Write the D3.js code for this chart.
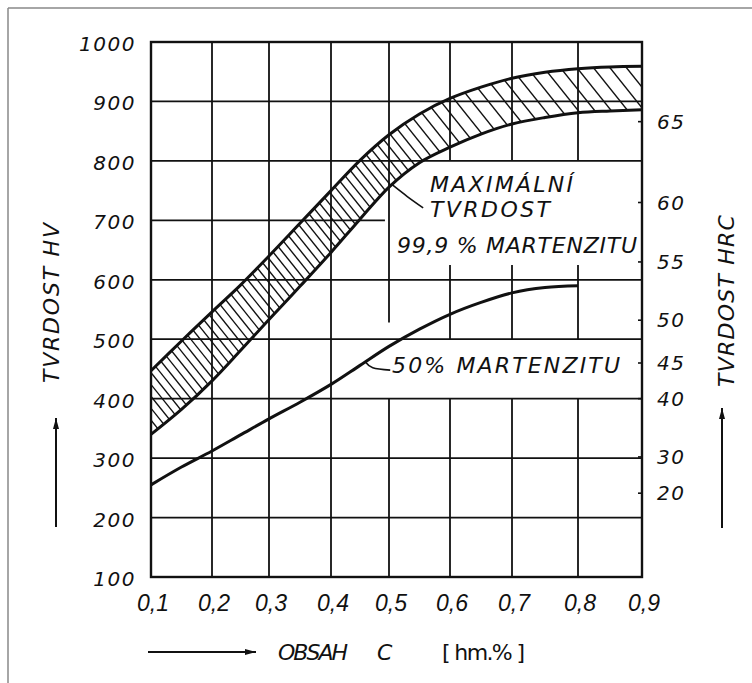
<!DOCTYPE html>
<html><head><meta charset="utf-8">
<script src="https://cdn.jsdelivr.net/npm/d3@7"></script>
<style>
html,body{margin:0;padding:0;background:#fff;}
svg{display:block;}
text{font-family:"DejaVu Sans",sans-serif;font-style:italic;fill:#111;}
</style></head><body>
<svg id="c" width="752" height="683"></svg>
<script>
// ---- data ----
const carbon = [0.1,0.15,0.2,0.25,0.3,0.35,0.4,0.45,0.5,0.55,0.6,0.65,0.7,0.75,0.8,0.85,0.9];
const hvMaxUpper = [447,497,546,591,640,695,750,801,844,879,905,924,939,949,955,958,959];
const hvMaxLower = [340,382,430,481,533,589,646,702,756,797,823,845,862,873,881,884,886];
const carbon50 = [0.1,0.15,0.2,0.25,0.3,0.35,0.4,0.45,0.5,0.55,0.6,0.65,0.7,0.75,0.8];
const hv50 = [255,285,312,339,366,394,424,456,488,517,542,562,578,587,590];
const xTicks = [0.1,0.2,0.3,0.4,0.5,0.6,0.7,0.8,0.9];
const xTickLabels = ["0,1","0,2","0,3","0,4","0,5","0,6","0,7","0,8","0,9"];
const yTicks = [100,200,300,400,500,600,700,800,900,1000];
const yTickLabels = ["100","200","300","400","500","600","700","800","900","1000"];
const hrcLabels = ["65","60","55","50","45","40","30","20"];
const hrcAtHV = [866,730,630,532,460,400,302,241];

// ---- layout ----
const svg = d3.select("#c");
// the printed (hand-drafted) carbon axis has slightly uneven grid spacing
const gridPx = [151,212,269,331,389,450,512,578,642];
const x = d3.scaleLinear().domain(xTicks).range(gridPx);
const y = d3.scaleLinear().domain([100,1000]).range([577,42]);
const ink = "#111";

// outer scan frame
svg.append("line").attr("x1",8).attr("y1",8).attr("x2",752).attr("y2",8).attr("stroke","#888").attr("stroke-width",1.5);
svg.append("line").attr("x1",8).attr("y1",8).attr("x2",8).attr("y2",683).attr("stroke","#888").attr("stroke-width",1.5);

// grid with gaps (label boxes)
const vGaps = {"0.5":[[400,528]],"0.6":[[400,500],[625,800]],"0.7":[[400,500],[625,800]],"0.8":[[400,500],[625,800]]};
const hGaps = {"700":[[0.493,0.9]]};
function segs(a,b,gaps){
  let out=[[a,b]];
  (gaps||[]).forEach(g=>{
    const n=[];
    out.forEach(([s,e])=>{
      if(g[1]<=s||g[0]>=e){n.push([s,e]);return;}
      if(g[0]>s)n.push([s,g[0]]);
      if(g[1]<e)n.push([g[1],e]);
    });
    out=n;
  });
  return out;
}
const grid = svg.append("g").attr("stroke",ink).attr("stroke-width",1.8);
xTicks.slice(1,-1).forEach(v=>{
  segs(100,1000,vGaps[String(v)]).forEach(([a,b])=>{
    grid.append("line").attr("x1",x(v)).attr("x2",x(v)).attr("y1",y(a)).attr("y2",y(b));
  });
});
yTicks.slice(1,-1).forEach(v=>{
  segs(0.1,0.9,hGaps[String(v)]).forEach(([a,b])=>{
    grid.append("line").attr("y1",y(v)).attr("y2",y(v)).attr("x1",x(a)).attr("x2",x(b));
  });
});

// band (hatched)
const bandData = carbon.map((c,i)=>({c, lo:hvMaxLower[i], hi:hvMaxUpper[i]}));
const curve = d3.curveCatmullRom;
const area = d3.area().x(d=>x(d.c)).y0(d=>y(d.lo)).y1(d=>y(d.hi)).curve(curve);
svg.append("clipPath").attr("id","bandclip").append("path").attr("d",area(bandData));
const hatch = svg.append("g").attr("clip-path","url(#bandclip)").attr("stroke",ink).attr("stroke-width",1.4);
const slope = 1.25;
const yTop = y(1000), yBot = y(100);
let hc = -180;
while(hc < 660){
  hatch.append("line").attr("x1",hc).attr("y1",yTop).attr("x2",hc+(yBot-yTop)/slope).attr("y2",yBot);
  const t = Math.max(0,Math.min(1,(hc-280)/140));
  hc += 9.5 + 7*t;
}
const line = d3.line().x(d=>x(d[0])).y(d=>y(d[1])).curve(curve);
svg.append("path").attr("d",line(carbon.map((c,i)=>[c,hvMaxUpper[i]]))).attr("fill","none").attr("stroke",ink).attr("stroke-width",3);
svg.append("path").attr("d",line(carbon.map((c,i)=>[c,hvMaxLower[i]]))).attr("fill","none").attr("stroke",ink).attr("stroke-width",3);
svg.append("path").attr("d",line(carbon50.map((c,i)=>[c,hv50[i]]))).attr("fill","none").attr("stroke",ink).attr("stroke-width",3);

// frame
svg.append("rect").attr("x",x(0.1)).attr("y",y(1000)).attr("width",x(0.9)-x(0.1)).attr("height",y(100)-y(1000))
  .attr("fill","none").attr("stroke",ink).attr("stroke-width",2.4);

// leaders
const leader = d3.line().x(d=>x(d[0])).y(d=>y(d[1])).curve(d3.curveNatural);
svg.append("path").attr("d",leader([[0.505,760],[0.53,740],[0.556,721]])).attr("fill","none").attr("stroke",ink).attr("stroke-width",1.6);
svg.append("path").attr("d",leader([[0.459,462],[0.472,452],[0.502,448]])).attr("fill","none").attr("stroke",ink).attr("stroke-width",1.6);

// y axis labels (left)
svg.append("g").selectAll("text").data(yTicks).join("text")
  .attr("x",136).attr("y",d=>y(d)+2).attr("text-anchor","end").attr("dominant-baseline","central")
  .attr("font-size",20).attr("letter-spacing",1.5).text((d,i)=>yTickLabels[i]);

// x axis labels
svg.append("g").selectAll("text").data(xTicks).join("text")
  .attr("x",d=>x(d)+2).attr("y",603).attr("text-anchor","middle").attr("dominant-baseline","central")
  .style("font-family","'Liberation Sans Narrow','Liberation Sans',sans-serif")
  .attr("font-size",23).text((d,i)=>xTickLabels[i]);

// right HRC scale
svg.append("g").selectAll("line").data(hrcAtHV).join("line")
  .attr("x1",x(0.9)).attr("x2",x(0.9)-4).attr("y1",d=>y(d)).attr("y2",d=>y(d)).attr("stroke",ink).attr("stroke-width",1.6);
svg.append("g").selectAll("text").data(hrcAtHV).join("text")
  .attr("x",657).attr("y",d=>y(d)).attr("dominant-baseline","central")
  .attr("font-size",20).attr("letter-spacing",1.5).text((d,i)=>hrcLabels[i]);

// annotations
function txt(s,xx,yy,len,size){
  return svg.append("text").attr("x",xx).attr("y",yy).attr("font-size",size||22)
    .attr("textLength",len).attr("lengthAdjust","spacing").text(s);
}
txt("MAXIMÁLNÍ",430,192,143);
txt("TVRDOST",430,217,120);
txt("99,9 % MARTENZITU",397,253,240);
txt("50% MARTENZITU",392,373,228);

// axis titles
svg.append("text").attr("transform","translate(51,303) rotate(-90)").attr("text-anchor","middle")
  .attr("dominant-baseline","central").attr("font-size",22).attr("textLength",160).attr("lengthAdjust","spacing").text("TVRDOST HV");
svg.append("text").attr("transform","translate(726,301) rotate(-90)").attr("text-anchor","middle")
  .attr("dominant-baseline","central").attr("font-size",22).attr("textLength",172).attr("lengthAdjust","spacing").text("TVRDOST HRC");
txt("OBSAH",278,660,70,22);
txt("C",377,660,20,22);
svg.append("text").attr("x",442).attr("y",660).attr("font-size",22).style("font-style","normal")
  .attr("textLength",83).attr("lengthAdjust","spacing").text("[ hm.% ]");

// arrows
function arrow(x1,y1,x2,y2){
  svg.append("line").attr("x1",x1).attr("y1",y1).attr("x2",x2).attr("y2",y2).attr("stroke",ink).attr("stroke-width",2);
  const a=Math.atan2(y2-y1,x2-x1), L=11, W=3;
  const bx=x2-L*Math.cos(a), by=y2-L*Math.sin(a);
  const px=-Math.sin(a)*W, py=Math.cos(a)*W;
  svg.append("path").attr("d",`M${x2},${y2}L${bx+px},${by+py}L${bx-px},${by-py}Z`).attr("fill",ink);
}
arrow(56,527,56,418);
arrow(722,528,722,408);
arrow(148,652,256,652);
</script>
</body></html>
